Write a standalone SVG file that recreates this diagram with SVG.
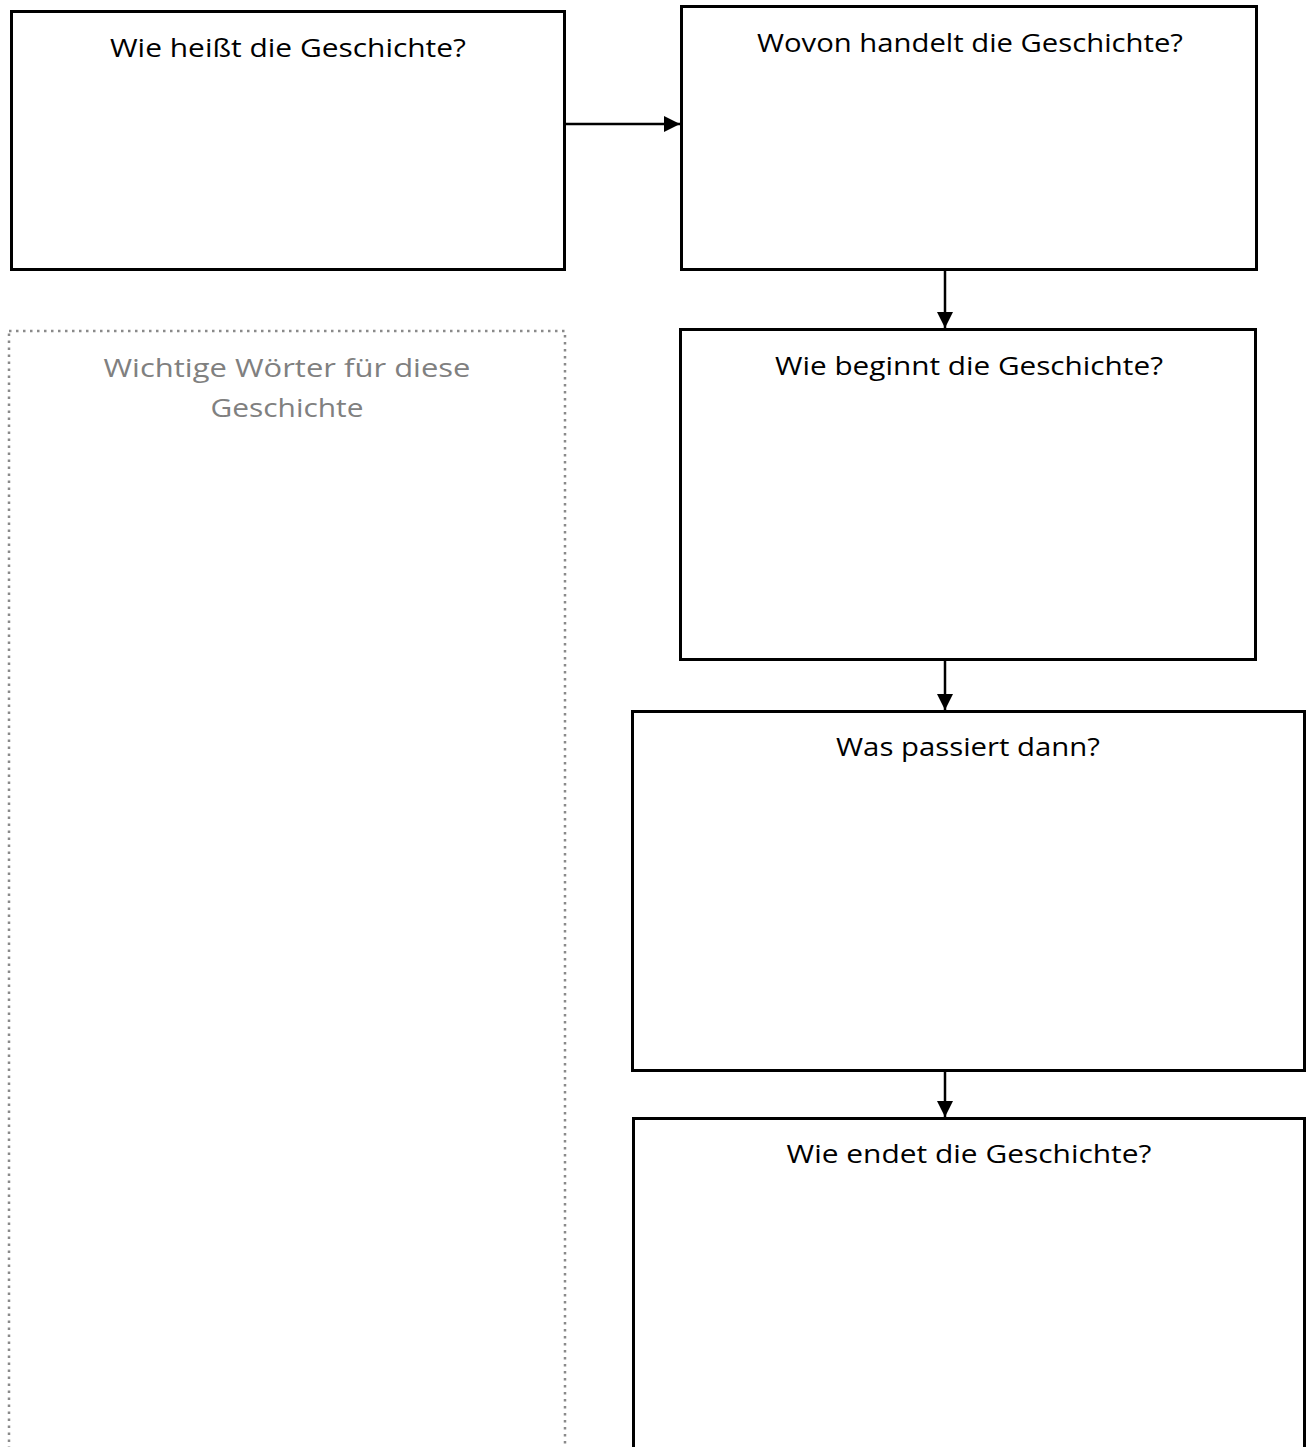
<svg xmlns="http://www.w3.org/2000/svg" width="1307" height="1447" viewBox="0 0 1307 1447">
<style>
.box{fill:#fff;stroke:#000;stroke-width:3}
.dot{fill:none;stroke:#8a8a8a;stroke-width:2.5;stroke-dasharray:2.5 4.5}
.t{font-family:"Open Sans","Liberation Sans",sans-serif;font-size:26px;fill:#000;text-anchor:middle}
.g{fill:#808080}
.c{stroke:#000;stroke-width:2.5;fill:none}
</style>
<defs>
<marker id="ah" markerWidth="17" markerHeight="16" refX="16" refY="8" orient="auto" markerUnits="userSpaceOnUse">
<path d="M0,0 L16,8 L0,16 Z" fill="#000"/>
</marker>
</defs>
<rect width="1307" height="1447" fill="#fff"/>
<g id="words">
<rect class="dot" x="9" y="331" width="556" height="1130"/>
<text class="t g" x="287" y="377" textLength="367" lengthAdjust="spacingAndGlyphs">Wichtige Wörter für diese</text>
<text class="t g" x="287" y="417" textLength="153" lengthAdjust="spacingAndGlyphs">Geschichte</text>
</g>
<g id="title">
<rect class="box" x="11.5" y="11.5" width="553" height="258"/>
<text class="t" x="288" y="57" textLength="356" lengthAdjust="spacingAndGlyphs">Wie heißt die Geschichte?</text>
</g>
<g id="about">
<rect class="box" x="681.5" y="6.5" width="575" height="263"/>
<text class="t" x="970" y="52" textLength="426" lengthAdjust="spacingAndGlyphs">Wovon handelt die Geschichte?</text>
</g>
<g id="begin">
<rect class="box" x="680.5" y="329.5" width="575" height="330"/>
<text class="t" x="969" y="375" textLength="388" lengthAdjust="spacingAndGlyphs">Wie beginnt die Geschichte?</text>
</g>
<g id="then">
<rect class="box" x="632.5" y="711.5" width="672" height="359"/>
<text class="t" x="968" y="756" textLength="264" lengthAdjust="spacingAndGlyphs">Was passiert dann?</text>
</g>
<g id="end">
<rect class="box" x="633.5" y="1118.5" width="671" height="340"/>
<text class="t" x="969" y="1163" textLength="365" lengthAdjust="spacingAndGlyphs">Wie endet die Geschichte?</text>
</g>
<g id="connectors">
<line class="c" x1="565" y1="124" x2="680" y2="124" marker-end="url(#ah)"/>
<line class="c" x1="945" y1="270" x2="945" y2="328" marker-end="url(#ah)"/>
<line class="c" x1="945" y1="660" x2="945" y2="710" marker-end="url(#ah)"/>
<line class="c" x1="945" y1="1071" x2="945" y2="1117" marker-end="url(#ah)"/>
</g>
</svg>
